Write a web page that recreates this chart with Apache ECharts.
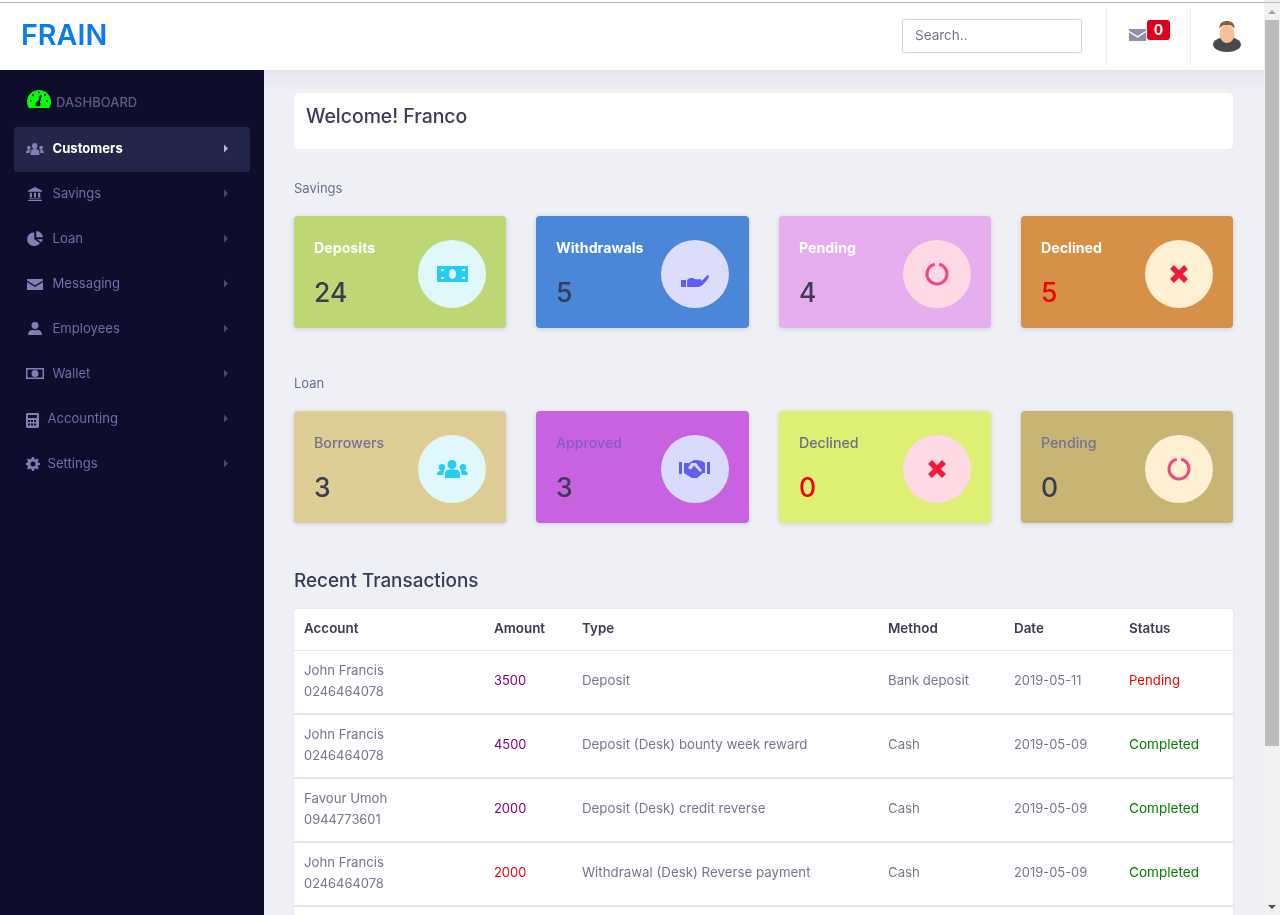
<!DOCTYPE html>
<html>
<head>
<meta charset="utf-8">
<title>FRAIN</title>
<style>html,body{margin:0;padding:0;overflow:hidden;background:#eff0f6}#main{width:1280px;height:915px}</style>
<script src="https://cdn.jsdelivr.net/npm/echarts@6/dist/echarts.min.js"></script>
</head>
<body>
<div id="main"></div>
<script>
// 数据
var menuLabels = ['Customers', 'Savings', 'Loan', 'Messaging', 'Employees', 'Wallet', 'Accounting', 'Settings'];
var savingsLabels = ['Deposits', 'Withdrawals', 'Pending', 'Declined'];
var savingsValues = [24, 5, 4, 5];
var loanLabels = ['Borrowers', 'Approved', 'Declined', 'Pending'];
var loanValues = [3, 3, 0, 0];
var columnLabels = ['Account', 'Amount', 'Type', 'Method', 'Date', 'Status'];
var accountNames = ['John Francis', 'John Francis', 'Favour Umoh', 'John Francis'];
var accountPhones = ['0246464078', '0246464078', '0944773601', '0246464078'];
var amounts = [3500, 4500, 2000, 2000];
var types = ['Deposit', 'Deposit (Desk) bounty week reward', 'Deposit (Desk) credit reverse', 'Withdrawal (Desk) Reverse payment'];
var methods = ['Bank deposit', 'Cash', 'Cash', 'Cash'];
var dates = ['2019-05-11', '2019-05-09', '2019-05-09', '2019-05-09'];
var statuses = ['Pending', 'Completed', 'Completed', 'Completed'];

var FONT = 'Inter, "Noto Sans", sans-serif';
var DARK = '#3a3b55', GREY = '#74768c', ICON = '#8080b4';
var els = [];
var shapeCount = 0;

function rect(x, y, w, h, fill, r, extra) {
	var st = {fill: fill};
	for (var k in extra) st[k] = extra[k];
	els.push({type: 'rect', shape: {x: x, y: y, width: w, height: h, r: r || 0}, style: st, silent: true});
}
function circle(cx, cy, r, fill) {
	els.push({type: 'circle', shape: {cx: cx, cy: cy, r: r}, style: {fill: fill}, silent: true});
}
// Inter 的竖直中线比参考图高，这里统一补上
function text(x, y, str, size, weight, color, align) {
	els.push({type: 'text', style: {x: x, y: y + 2, text: String(str), fill: color,
		font: weight + ' ' + size + 'px ' + FONT, textAlign: align || 'left', textVerticalAlign: 'middle'}, silent: true});
}
// 图标：graphic 组件没有 path 类型，注册成 shape 再按方框缩放
function icon(d, x, y, w, h, fill) {
	var name = 'icon' + (shapeCount++);
	var Clz = echarts.graphic.extendPath(d);
	echarts.graphic.registerShape(name, Clz);
	var box = new Clz().getBoundingRect();
	var sx = w / box.width, sy = h / box.height;
	els.push({type: name, x: x - box.x * sx, y: y - box.y * sy, scaleX: sx, scaleY: sy, style: {fill: fill}, silent: true});
}
function ring(cx, cy, color) {
	els.push({type: 'arc', shape: {cx: cx, cy: cy, r: 10, startAngle: -Math.PI / 2 + 0.22, endAngle: -Math.PI / 2 - 0.22, clockwise: true},
		style: {stroke: color, fill: 'none', lineWidth: 3}, silent: true});
}
function cross(cx, cy, color) {
	var s = 7;
	[[-s, -s, s, s], [-s, s, s, -s]].forEach(function (p) {
		els.push({type: 'line', shape: {x1: cx + p[0], y1: cy + p[1], x2: cx + p[2], y2: cy + p[3]},
			style: {stroke: color, lineWidth: 5.5}, silent: true});
	});
}

var PATH_USERS = 'M15 0a4.6 4.6 0 1 1-.01 0zM5 4a3.2 3.2 0 1 1-.01 0zM26 4a3.2 3.2 0 1 1-.01 0zM0 15c0-3 2-4.6 4.5-4.6h3c-.8 1-1.2 2.200-1.200 3.600V15zM31 15h-6.300v-1c0-1.400-.4-2.600-1.200-3.600h3c2.500 0 4.500 1.600 4.500 4.600zM8 18v-3.800c0-2.800 2-4.700 4.500-4.700h6c2.500 0 4.500 1.900 4.500 4.700V18z';
var PATH_BANK = 'M8 0L16 4V5.500H0V4zM2 6.500H4.500V12H2zM6.800 6.500H9.200V12H6.800zM11.500 6.500H14V12H11.500zM1 13H15V14H1zM0 14.800H16V16H0z';
var PATH_PIE = 'M7 1.500V9L13 13.500A7.500 7.500 0 1 1 7 1.500zM9 0A7.500 7.500 0 0 1 16 7H9zM9.500 9H16A7.500 7.500 0 0 1 14.300 12.300z';
var PATH_MAIL = 'M0 0H16V1.500L8 6.500L0 1.500zM0 3L8 8L16 3V11H0z';
var PATH_USER = 'M8 0a4 4 0 1 1-.01 0zM0 15c0-4 2.500-6 5-6.200 1.800 1 4.200 1 6 0 2.500.2 5 2.200 5 6.200z';
var PATH_WALLET_RIM = 'M0 0H18V1.500H0zM0 9.500H18V11H0zM0 1.500H1.500V9.500H0zM16.500 1.500H18V9.500H16.500z';
var PATH_CALC_BODY = 'M1.500 0H11.500A1.500 1.500 0 0 1 13 1.500V14.500A1.500 1.500 0 0 1 11.500 16H1.500A1.500 1.500 0 0 1 0 14.500V1.500A1.500 1.500 0 0 1 1.500 0z';
var PATH_GEAR = 'M6 0H8L8.500 2.200 9.800 2.700 11.700 1.500 13 3 11.800 4.800 12.300 6 14.300 6.500V8.500L12.300 9 11.800 10.200 13 12 11.700 13.500 9.800 12.300 8.500 12.800 8 15H6L5.500 12.800 4.200 12.300 2.300 13.500 1 12 2.200 10.200 1.700 9 0 8.500V6.500L1.700 6 2.200 4.800 1 3 2.300 1.500 4.200 2.700 5.500 2.200z';
var PATH_HAND = 'M0 7H5V12H0zM6 7C9 5 11 5.500 14 6.500H19C20.500 6.500 20.500 8.300 19 8.500H14L20 7.800 26 3.500C27.500 3 28 4.500 27 5.500 23 9.500 20 12 16 12H6z';
var PATH_SHAKE = 'M0 2H3V14H0zM28 2H31V14H28zM5 3H10L15 0H18L23 1 26 3V13H24L18 18H13L5 13z';
var PATH_SHAKE_CUT = 'M12.500 3L9 8 12 9.500 15 5.500 21 12 23 10.500 17 3z';

// 页面底色和侧栏
rect(0, 0, 1280, 915, '#eff0f6');
rect(264, 70, 1000, 22, '', 0, {fill: new echarts.graphic.LinearGradient(0, 0, 0, 1, [{offset: 0, color: '#e4e5ef'}, {offset: 1, color: '#eff0f6'}])});
rect(0, 70, 264, 845, '#0e0d2b');
rect(0, 0, 1264, 70, '#ffffff');
rect(0, 2, 1280, 1, '#b9b9b9');

// 滚动条
rect(1264, 3, 16, 912, '#f1f1f1');
rect(1265, 20, 14, 726, '#bcbcbc');
icon('M5 0L10 5H0z', 1268, 10, 8, 4, '#a3a3a3');
icon('M0 0H10L5 5z', 1268, 905, 8, 4, '#505050');

// 顶栏
text(21, 34, 'FRAIN', 28.7, 600, '#0b7bf0');
rect(902.5, 19.5, 179, 33, '#ffffff', 2, {stroke: '#cfd0d8', lineWidth: 1});
text(915, 34, 'Search..', 13.5, 400, '#74768c');
rect(1106, 8, 1, 57, '#ececf0');
rect(1190, 8, 1, 57, '#ececf0');
icon(PATH_MAIL, 1129, 29, 17, 12, '#8d90a8');
rect(1147, 20, 23, 20, '#e0001b', 3);
text(1158.500, 29, '0', 14, 700, '#ffffff', 'center');
// 头像
els.push({type: 'ellipse', shape: {cx: 1227, cy: 44.500, rx: 14, ry: 7.500}, style: {fill: '#4a4a4a'}, silent: true});
els.push({type: 'ellipse', shape: {cx: 1227, cy: 34, rx: 7.500, ry: 9}, style: {fill: '#f3c097'}, silent: true});
icon('M0 8C-.5 2 3 0 7.500 0S15.500 2 15 8C13 4.500 11 4 7.500 4S2 4.500 0 8z', 1219.500, 21, 15, 8, '#8a5f36');

// 侧栏菜单
icon('M12 0A12 12 0 0 1 24 12C24 15 23 17 22 18H2C1 17 0 15 0 12A12 12 0 0 1 12 0z', 27, 90, 24, 18, '#00ff00');
[[31, 101], [33, 95], [39, 92.5], [45, 95], [47, 101]].forEach(function (p) { circle(p[0], p[1], 1, '#0e0d2b'); });
els.push({type: 'line', shape: {x1: 38, y1: 105, x2: 41, y2: 95}, style: {stroke: '#0e0d2b', lineWidth: 2}, silent: true});
circle(38, 104, 2.500, '#0e0d2b');
text(56, 101, 'DASHBOARD', 13, 500, '#5c5c80');
rect(14, 127, 236, 45, '#22264a', 3);
var menuX = [52.5, 52.5, 52.5, 52.5, 52.5, 52.5, 47.5, 47.5];
menuLabels.forEach(function (label, i) {
	var y = 148 + i * 45;
	text(menuX[i], y - 1, label, 13.1, i === 0 ? 700 : 400, i === 0 ? '#ffffff' : '#6e6ea8');
	icon('M0 0L4 4L0 8z', 224, y - 3.500, 4, 8, i === 0 ? '#b8b8cc' : '#4a4a68');
});
icon(PATH_USERS, 26, 143, 18, 12, ICON);
icon(PATH_BANK, 28, 187, 14, 14, ICON);
icon(PATH_PIE, 27, 231, 16, 15, ICON);
icon(PATH_MAIL, 27, 279, 16, 11, ICON);
icon(PATH_USER, 28, 322, 14, 13, ICON);
icon(PATH_WALLET_RIM, 26, 368, 18, 11, ICON);
circle(35, 373.500, 3.500, ICON);
icon(PATH_CALC_BODY, 26, 413, 13, 15, ICON);
rect(28, 415, 9, 3, '#0e0d2b');
[29, 32, 35].forEach(function (x) {
	[420, 423.5].forEach(function (y) { rect(x - 1, y, 2, 2, '#0e0d2b'); });
});
icon(PATH_GEAR, 26, 457, 14, 14, ICON);
circle(33, 464, 2.500, '#0e0d2b');

// 欢迎卡片
rect(294, 93, 939, 56, '#ffffff', 5);
text(306, 115, 'Welcome! Franco', 19.4, 500, DARK);

// 统计卡片
var cardX = [294, 536, 779, 1021], cardW = [212, 213, 212, 212], circleX = [452, 695, 937, 1179];
var savingsColors = ['#bcd773', '#4a87d8', '#e6aeee', '#d69047'];
var loanColors = ['#dfcd96', '#c962e0', '#def073', '#c8b574'];
var savingsCircles = ['#e0f8fc', '#dcdcfb', '#ffd9e4', '#fff0d4'];
var loanCircles = ['#e0f8fc', '#d8dbfb', '#ffd9e4', '#fff0d4'];
var loanTitleColors = ['#75709a', '#8060c8', '#6c6e88', '#75709a'];
var CYAN = '#25cdf0', INDIGO = '#5d5ff0', PINK = '#f0487e', RED = '#ee1c3a';

function cards(y, labels, values, colors, circles, titleColors, titleWeight) {
	labels.forEach(function (label, i) {
		rect(cardX[i], y, cardW[i], 112, colors[i], 4, {shadowBlur: 5, shadowOffsetY: 1, shadowColor: 'rgba(40,40,80,.18)'});
		text(cardX[i] + 20, y + 31, label, 14.2, titleWeight, titleColors ? titleColors[i] : '#ffffff');
		text(cardX[i] + 20, y + 76, values[i], 26.5, 500, label === 'Declined' ? '#f00000' : DARK);
		circle(circleX[i], y + 58, 34, circles[i]);
	});
}

text(294, 187, 'Savings', 13, 400, '#6c6e88');
cards(216, savingsLabels, savingsValues, savingsColors, savingsCircles, null, 700);
text(294, 382, 'Loan', 13, 400, '#6c6e88');
cards(411, loanLabels, loanValues, loanColors, loanCircles, loanTitleColors, 500);

// 卡片图标
rect(437, 266, 31, 16, CYAN, 1);
els.push({type: 'ellipse', shape: {cx: 452.500, cy: 274, rx: 3.500, ry: 5}, style: {fill: '#e0f8fc'}, silent: true});
[[441, 269], [462, 269], [441, 277], [462, 277]].forEach(function (p) { rect(p[0], p[1], 3, 2, '#e0f8fc'); });
icon(PATH_HAND, 681, 275, 28, 12, INDIGO);
ring(937, 274, PINK);
cross(1179, 274, RED);
icon(PATH_USERS, 437, 460, 31, 18, CYAN);
icon(PATH_SHAKE, 679, 460, 31, 18, INDIGO);
icon(PATH_SHAKE_CUT, 688, 463, 14, 9, '#d8dbfb');
cross(937, 469, RED);
ring(1179, 469, PINK);

// 交易表
text(294, 579, 'Recent Transactions', 18.9, 500, DARK);
var colX = [304, 494, 582, 888, 1014, 1129];
rect(294, 609, 939, 320, '#ffffff', 4, {shadowBlur: 3, shadowColor: 'rgba(40,40,80,.08)'});
columnLabels.forEach(function (label, i) { text(colX[i], 627, label, 13.4, 600, DARK); });
rect(294, 650, 939, 1, '#e6e7ee');
amounts.forEach(function (amount, i) {
	var y = 679 + i * 64;
	text(colX[0], y - 10, accountNames[i], 13.2, 400, GREY);
	text(colX[0], y + 11, accountPhones[i], 12.9, 400, GREY);
	text(colX[1], y, amount, 12.9, 400, types[i].indexOf('Withdrawal') === 0 ? '#f00000' : '#800080');
	text(colX[2], y, types[i], 13.3, 400, GREY);
	text(colX[3], y, methods[i], 13.2, 400, GREY);
	text(colX[4], y, dates[i], 12.9, 400, GREY);
	text(colX[5], y, statuses[i], statuses[i] === 'Pending' ? 13.2 : 13.6, 400, statuses[i] === 'Pending' ? '#f00000' : '#008000');
	rect(294, y + 34, 939, 2, '#e2e3ea');
});

var myChart = echarts.init(document.getElementById('main'));
myChart.setOption({animation: false, graphic: {elements: els}});
</script>
</body>
</html>
